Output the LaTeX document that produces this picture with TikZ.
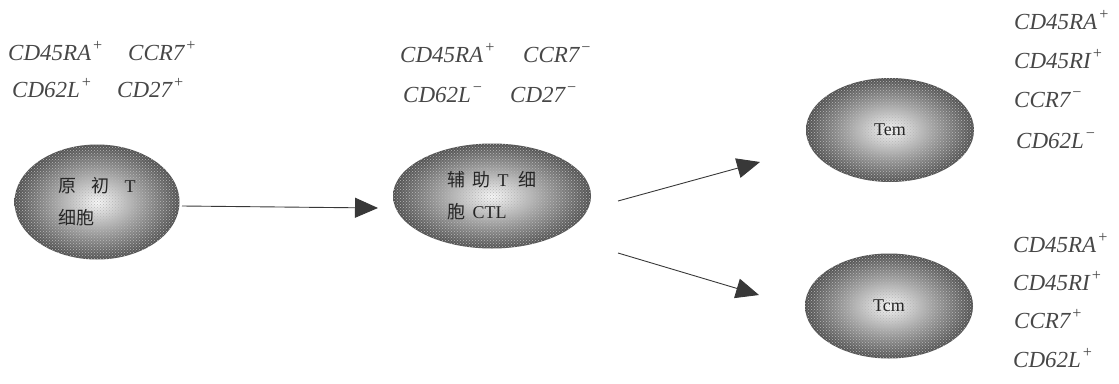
\documentclass[tikz,border=0pt]{standalone}
\usepackage{fontspec}
\setmainfont{Liberation Serif}
\newfontfamily\cjk{Noto Sans CJK SC}
\usetikzlibrary{arrows.meta,shapes.geometric,patterns}

\newcommand{\up}{\textsuperscript{\kern1pt+}}
\newcommand{\dn}{\textsuperscript{\kern1pt\textminus}}

\begin{document}
\begin{tikzpicture}[x=1pt,y=-1pt,
  cell/.style={ellipse, inner sep=0pt, draw=none,
    shade, inner color=gray!6, outer color=black!68,
    postaction={pattern=crosshatch dots, pattern color=black!28},
    text=black!85, font=\fontsize{18}{32}\selectfont, align=left},
  marker/.style={anchor=base west, inner sep=0pt, text=black!72,
    font=\fontsize{23}{23}\selectfont\itshape},
  link/.style={draw=black!78, line width=0.9pt,
    -{Triangle[length=23pt,width=20pt]}},
]
\useasboundingbox (0,0) rectangle (1119,383);

% cells
\node[cell, minimum width=165pt, minimum height=115pt] (naive) at (97,202)
  {{\cjk 原}\hspace{15pt}{\cjk 初}\hspace{15pt}T\\{\cjk 细胞}};
\node[cell, minimum width=198pt, minimum height=105pt] (helper) at (492,196)
  {{\cjk 辅}\hspace{7pt}{\cjk 助}\hspace{7pt}T\hspace{10pt}{\cjk 细}\\{\cjk 胞}\hspace{7pt}CTL};
\node[cell, minimum width=168pt, minimum height=104pt] (tem) at (890,130) {Tem};
\node[cell, minimum width=168pt, minimum height=105pt] (tcm) at (889,306) {Tcm};

% surface markers of the naive T cell
\node[marker] (n1) at (8,60)   {CD45RA\up};
\node[marker] (n2) at (128,60) {CCR7\up};
\node[marker] (n3) at (12,97)  {CD62L\up};
\node[marker] (n4) at (117,97) {CD27\up};

% surface markers of the helper / CTL stage
\node[marker] (h1) at (400,62)  {CD45RA\up};
\node[marker] (h2) at (523,62)  {CCR7\dn};
\node[marker] (h3) at (403,102) {CD62L\dn};
\node[marker] (h4) at (510,102) {CD27\dn};

% surface markers of Tem
\node[marker] (e1) at (1014,29)  {CD45RA\up};
\node[marker] (e2) at (1014,68)  {CD45RI\up};
\node[marker] (e3) at (1014,107) {CCR7\dn};
\node[marker] (e4) at (1016,148) {CD62L\dn};

% surface markers of Tcm
\node[marker] (c1) at (1013,252) {CD45RA\up};
\node[marker] (c2) at (1013,290) {CD45RI\up};
\node[marker] (c3) at (1014,328) {CCR7\up};
\node[marker] (c4) at (1013,367) {CD62L\up};

% arrows
\coordinate (a1s) at (182,206);
\coordinate (a1e) at (378,208);
\coordinate (a2s) at (618,201);
\coordinate (a2e) at (760,162);
\coordinate (a3s) at (618,253);
\coordinate (a3e) at (759,295);
\draw[link] (a1s) -- (a1e);
\draw[link] (a2s) -- (a2e);
\draw[link] (a3s) -- (a3e);
\end{tikzpicture}
\end{document}
